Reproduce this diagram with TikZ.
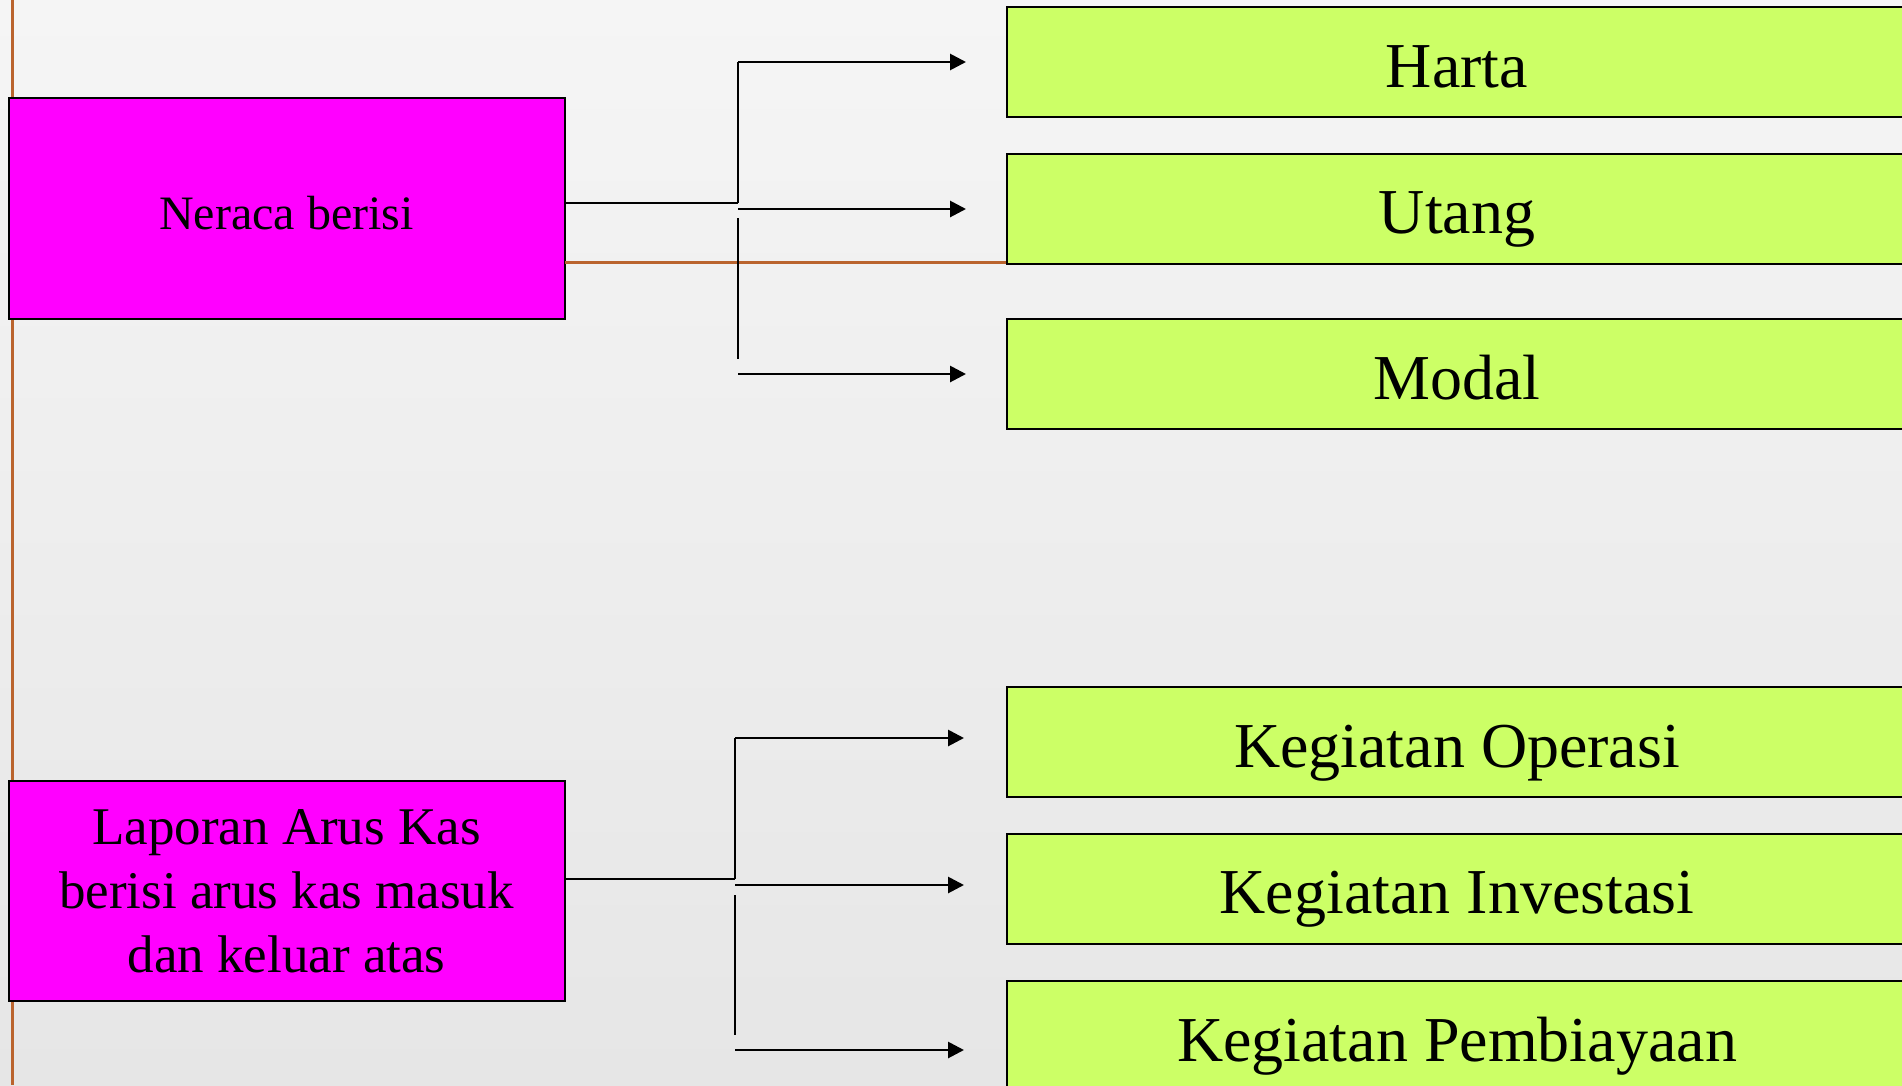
\documentclass[tikz,border=0pt]{standalone}
\usepackage{fontspec}
\setmainfont{Liberation Serif}
\usetikzlibrary{arrows.meta}
\definecolor{bgtop}{RGB}{245,245,245}
\definecolor{bgbot}{RGB}{230,230,230}
\definecolor{mag}{RGB}{255,0,255}
\definecolor{lime}{RGB}{204,255,102}
\definecolor{rust}{RGB}{186,100,46}
\begin{document}
\begin{tikzpicture}[x=1pt,y=-1pt,
  mainbox/.style={draw=black,line width=2pt,fill=mag,minimum width=556pt,inner sep=0pt,align=center},
  subbox/.style={draw=black,line width=2pt,fill=lime,minimum width=900pt,minimum height=110pt,inner sep=0pt,text height=50pt,text depth=0pt,font=\fontsize{64}{77}\selectfont},
  link/.style={line width=2pt},
  vlink/.style={line width=2.5pt},
  arr/.style={line width=2.8pt,-{Triangle[length=16pt,width=16pt]}},
  rule/.style={draw=rust,line width=3pt}]
\useasboundingbox (0,0) rectangle (1902,1085);
\clip (0,0) rectangle (1902,1085);
\shade[top color=bgtop,bottom color=bgbot] (0,0) rectangle (1902,1085);
% vertical rule
\coordinate (rtop) at (12,0);
\coordinate (rbot) at (12,1085);
\draw[rule] (rtop) -- (rbot);
% main boxes
\node[mainbox,minimum height=221pt,text height=41pt,text depth=0pt,font=\fontsize{48}{58}\selectfont] (neraca) at (286.5,208.5) {Neraca berisi};
\node[mainbox,minimum height=220pt,font=\fontsize{53}{64}\selectfont] (laporan) at (286.5,891) {Laporan Arus Kas\\berisi arus kas masuk\\dan keluar atas};
% sub boxes
\node[subbox] (harta) at (1457,62) {Harta};
\node[subbox] (utang) at (1457,208.5) {Utang};
\node[subbox] (modal) at (1457,374) {Modal};
\node[subbox] (oper) at (1457,742) {Kegiatan Operasi};
\node[subbox] (inv) at (1457,888.5) {Kegiatan Investasi};
\node[subbox] (pemb) at (1457,1036) {Kegiatan Pembiayaan};
% horizontal rule
\coordinate (hr) at (565,262);
\draw[rule] (hr) -- (hr -| utang.west);
% top group
\coordinate (tJ) at (738,203);
\coordinate (tA) at (738,62);
\coordinate (tB) at (738,209);
\coordinate (tV1) at (738,218);
\coordinate (tV2) at (738,359);
\coordinate (tC) at (738,374);
\draw[link] (neraca.east |- tJ) -- (tJ);
\draw[vlink] (tJ) -- (tA);
\draw[vlink] (tV1) -- (tV2);
\draw[arr] (tA) -- ([xshift=-40pt]harta.west |- tA);
\draw[arr] (tB) -- ([xshift=-40pt]utang.west |- tB);
\draw[arr] (tC) -- ([xshift=-40pt]modal.west |- tC);
% bottom group
\coordinate (bJ) at (735,879);
\coordinate (bA) at (735,738);
\coordinate (bB) at (735,885);
\coordinate (bV1) at (735,895);
\coordinate (bV2) at (735,1035);
\coordinate (bC) at (735,1050);
\draw[link] (laporan.east |- bJ) -- (bJ);
\draw[vlink] (bJ) -- (bA);
\draw[vlink] (bV1) -- (bV2);
\draw[arr] (bA) -- ([xshift=-42pt]oper.west |- bA);
\draw[arr] (bB) -- ([xshift=-42pt]inv.west |- bB);
\draw[arr] (bC) -- ([xshift=-42pt]pemb.west |- bC);
\end{tikzpicture}
\end{document}
